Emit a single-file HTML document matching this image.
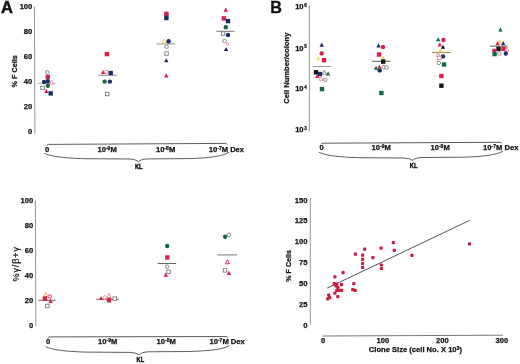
<!DOCTYPE html>
<html><head><meta charset="utf-8"><style>
html,body{margin:0;padding:0;background:#fff;width:520px;height:364px;overflow:hidden}
svg{display:block;filter:blur(0.35px)}
text{font-family:"Liberation Sans",sans-serif;fill:#111;stroke:#111;stroke-width:0.25px}
</style></head><body>
<svg width="520" height="364" viewBox="0 0 520 364">
<rect width="520" height="364" fill="#fff"/>
<text x="1" y="13.2" text-anchor="start" font-size="16.5" font-weight="bold" style="stroke-width:0.45">A</text>
<text x="32.3" y="134.05" text-anchor="end" font-size="7.6" font-weight="bold" >0</text>
<text x="32.3" y="109.01" text-anchor="end" font-size="7.6" font-weight="bold" >20</text>
<text x="32.3" y="83.97" text-anchor="end" font-size="7.6" font-weight="bold" >40</text>
<text x="32.3" y="58.93" text-anchor="end" font-size="7.6" font-weight="bold" >60</text>
<text x="32.3" y="33.89" text-anchor="end" font-size="7.6" font-weight="bold" >80</text>
<text x="32.3" y="8.85" text-anchor="end" font-size="7.6" font-weight="bold" >100</text>
<line x1="34.45" y1="6.6" x2="34.9" y2="133.5" stroke="#959595" stroke-width="1"/>
<text x="0" y="0" text-anchor="middle" font-size="7.3" font-weight="bold" transform="translate(16.9 71.3) rotate(-90)">% F Cells</text>
<line x1="38" y1="83.3" x2="55.5" y2="83.3" stroke="#b59aa0" stroke-width="1"/>
<line x1="98.3" y1="75.2" x2="116.7" y2="75.2" stroke="#8a7f85" stroke-width="1"/>
<line x1="156.7" y1="43.9" x2="175.2" y2="43.9" stroke="#8a8a8a" stroke-width="1"/>
<line x1="216.3" y1="31.3" x2="234.5" y2="31.3" stroke="#7a7a7a" stroke-width="1"/>
<circle cx="47.3" cy="72.3" r="1.75" fill="#fff" stroke="#7c7c7c" stroke-width="0.9"/>
<rect x="45.6" y="74.8" width="4.4" height="4.4" fill="#da1f48"/>
<circle cx="44.0" cy="82.0" r="2.20" fill="#1a2c68"/>
<circle cx="47.8" cy="81.3" r="2.20" fill="#1a2c68"/>
<path d="M51.6 80.1L53.6 84.1L49.6 84.1Z" fill="#fff" stroke="#e8838f" stroke-width="0.9"/>
<circle cx="47.8" cy="85.7" r="2.20" fill="#13693f"/>
<rect x="40.8" y="86.2" width="3.5" height="3.5" fill="#fff" stroke="#7c7c7c" stroke-width="0.9"/>
<path d="M46.3 88.8L48.5 92.9L44.1 92.9Z" fill="#da1f48"/>
<rect x="48.5" y="91.2" width="4.4" height="4.4" fill="#1a2c68"/>
<rect x="104.7" y="51.9" width="4.4" height="4.4" fill="#da1f48"/>
<path d="M103.1 70.0L105.3 74.1L100.9 74.1Z" fill="#da1f48"/>
<circle cx="106.4" cy="71.9" r="1.75" fill="#fff" stroke="#e8838f" stroke-width="0.9"/>
<rect x="108.5" y="70.8" width="4.4" height="4.4" fill="#1a2c68"/>
<circle cx="104.6" cy="81.6" r="2.20" fill="#13693f"/>
<circle cx="109.9" cy="81.6" r="2.20" fill="#1a2c68"/>
<rect x="105.5" y="92.3" width="3.5" height="3.5" fill="#fff" stroke="#7c7c7c" stroke-width="0.9"/>
<rect x="164.2" y="11.6" width="4.4" height="4.4" fill="#da1f48"/>
<rect x="164.2" y="15.8" width="4.4" height="4.4" fill="#1a2c68"/>
<path d="M164.2 39.0L166.2 43.0L162.2 43.0Z" fill="#fff" stroke="#f0d24a" stroke-width="0.9"/>
<circle cx="168.6" cy="41.2" r="2.20" fill="#1a2c68"/>
<circle cx="166.6" cy="46.7" r="1.75" fill="#fff" stroke="#7c7c7c" stroke-width="0.9"/>
<rect x="164.8" y="51.8" width="3.5" height="3.5" fill="#fff" stroke="#7c7c7c" stroke-width="0.9"/>
<path d="M166.3 58.2L168.5 62.3L164.1 62.3Z" fill="#1a2c68"/>
<path d="M166.3 73.3L168.5 77.4L164.1 77.4Z" fill="#da1f48"/>
<path d="M225.7 7.6L227.9 11.7L223.5 11.7Z" fill="#da1f48"/>
<rect x="221.7" y="16.2" width="4.4" height="4.4" fill="#da1f48"/>
<rect x="225.8" y="18.9" width="4.4" height="4.4" fill="#1a2c68"/>
<circle cx="225.8" cy="27.2" r="2.20" fill="#13693f"/>
<rect x="221.3" y="31.8" width="3.5" height="3.5" fill="#fff" stroke="#7c7c7c" stroke-width="0.9"/>
<circle cx="228.0" cy="35.0" r="2.20" fill="#1a2c68"/>
<circle cx="224.6" cy="41.1" r="1.75" fill="#fff" stroke="#7c7c7c" stroke-width="0.9"/>
<circle cx="227.7" cy="44.1" r="1.25" fill="#fff" stroke="#e8838f" stroke-width="0.9"/>
<path d="M226.1 46.9L228.3 51.0L223.9 51.0Z" fill="#1a2c68"/>
<path d="M46.8 145.2 Q47.1 144.4 48.6 144.4 L225.4 143.4 Q226.9 143.4 227.2 144.2 M44.7 153.4 C49.7 156.1 62.7 158.1 84.7 158.7 L129.3 159.0 Q136.3 159.4 138.3 161.9 Q140.3 159.3 147.3 158.9 L188.7 158.6 C210.7 158.0 223.7 156.0 228.7 152.4" fill="none" stroke="#4a4a4a" stroke-width="0.9" stroke-linecap="round"/>
<text x="45" y="151.8" text-anchor="start" font-size="7.6" font-weight="bold" >0</text>
<text x="97.5" y="151.8" text-anchor="start" font-size="7.6" font-weight="bold" >10<tspan font-size="5.0" dy="-2.2">-9</tspan><tspan dy="2.2">M</tspan></text>
<text x="156" y="151.8" text-anchor="start" font-size="7.6" font-weight="bold" >10<tspan font-size="5.0" dy="-2.2">-8</tspan><tspan dy="2.2">M</tspan></text>
<text x="208.8" y="151.8" text-anchor="start" font-size="7.6" font-weight="bold" >10<tspan font-size="5.0" dy="-2.2">-7</tspan><tspan dy="2.2">M Dex</tspan></text>
<text x="138.8" y="169.4" text-anchor="middle" font-size="7.6" font-weight="bold" textLength="7.6" lengthAdjust="spacingAndGlyphs" style="stroke-width:0.45">KL</text>
<text x="270.2" y="13.0" text-anchor="start" font-size="16.2" font-weight="bold" style="stroke-width:0.3">B</text>
<text x="303.6" y="8.9" text-anchor="end" font-size="7.6" font-weight="bold">10</text>
<text x="304.2" y="6.5" font-size="4.5" font-weight="bold">6</text>
<text x="303.6" y="50.5" text-anchor="end" font-size="7.6" font-weight="bold">10</text>
<text x="304.2" y="48.1" font-size="4.5" font-weight="bold">5</text>
<text x="303.6" y="91.2" text-anchor="end" font-size="7.6" font-weight="bold">10</text>
<text x="304.2" y="88.8" font-size="4.5" font-weight="bold">4</text>
<text x="303.6" y="132.3" text-anchor="end" font-size="7.6" font-weight="bold">10</text>
<text x="304.2" y="130.0" font-size="4.5" font-weight="bold">3</text>
<line x1="309.4" y1="5" x2="309.4" y2="131.3" stroke="#959595" stroke-width="1"/>
<text x="0" y="0" text-anchor="middle" font-size="7.6" font-weight="bold" transform="translate(288.8 68.2) rotate(-90)">Cell Number/colony</text>
<line x1="312.7" y1="66.5" x2="330.9" y2="66.5" stroke="#9a9a9a" stroke-width="1"/>
<line x1="372.2" y1="61.3" x2="390.3" y2="61.3" stroke="#555" stroke-width="1"/>
<line x1="432.2" y1="52.4" x2="450.9" y2="52.4" stroke="#9a7a3a" stroke-width="1"/>
<line x1="490" y1="46.2" x2="507.8" y2="46.2" stroke="#666" stroke-width="1"/>
<path d="M321.7 42.6L323.9 46.7L319.5 46.7Z" fill="#1a2c68"/>
<circle cx="321.7" cy="53.4" r="2.20" fill="#da1f48"/>
<path d="M318.4 56.1L320.6 60.2L316.2 60.2Z" fill="#efe07a"/>
<rect x="321.8" y="58.0" width="4.4" height="4.4" fill="#da1f48"/>
<rect x="313.8" y="70.1" width="4.4" height="4.4" fill="#141414"/>
<rect x="317.8" y="71.8" width="4.4" height="4.4" fill="#1a2c68"/>
<path d="M324.4 70.1L326.4 74.1L322.4 74.1Z" fill="#fff" stroke="#7c7c7c" stroke-width="0.9"/>
<path d="M328.1 71.5L330.3 75.6L325.9 75.6Z" fill="#13693f"/>
<path d="M317.3 73.8L319.5 77.9L315.1 77.9Z" fill="#da1f48"/>
<path d="M321.0 76.2L323.0 80.2L319.0 80.2Z" fill="#fff" stroke="#e8838f" stroke-width="0.9"/>
<circle cx="325.3" cy="79.8" r="1.75" fill="#fff" stroke="#7c7c7c" stroke-width="0.9"/>
<rect x="319.8" y="86.9" width="4.4" height="4.4" fill="#13693f"/>
<path d="M378.6 43.3L380.8 47.4L376.4 47.4Z" fill="#1a2c68"/>
<circle cx="383.0" cy="47.0" r="2.20" fill="#da1f48"/>
<rect x="376.8" y="52.3" width="4.4" height="4.4" fill="#da1f48"/>
<path d="M383.0 55.6L385.2 59.7L380.8 59.7Z" fill="#f0d24a"/>
<rect x="381.0" y="59.4" width="4.4" height="4.4" fill="#141414"/>
<path d="M376.0 65.7L378.2 69.8L373.8 69.8Z" fill="#13693f"/>
<path d="M379.3 64.4L381.5 68.5L377.1 68.5Z" fill="#da1f48"/>
<circle cx="383.7" cy="67.1" r="1.75" fill="#fff" stroke="#7c7c7c" stroke-width="0.9"/>
<circle cx="386.7" cy="67.5" r="1.75" fill="#fff" stroke="#7c7c7c" stroke-width="0.9"/>
<circle cx="379.7" cy="70.4" r="2.20" fill="#1a2c68"/>
<rect x="379.2" y="90.8" width="4.4" height="4.4" fill="#13693f"/>
<path d="M438.2 37.2L440.4 41.3L436.0 41.3Z" fill="#13693f"/>
<circle cx="443.4" cy="40.0" r="2.20" fill="#da1f48"/>
<path d="M439.7 42.5L441.9 46.6L437.5 46.6Z" fill="#da1f48"/>
<path d="M443.0 44.7L445.2 48.8L440.8 48.8Z" fill="#141414"/>
<path d="M440.4 48.4L442.6 52.5L438.2 52.5Z" fill="#f0d24a"/>
<path d="M438.2 52.4L440.2 56.4L436.2 56.4Z" fill="#fff" stroke="#e8838f" stroke-width="0.9"/>
<circle cx="443.0" cy="56.4" r="2.20" fill="#1a2c68"/>
<rect x="437.6" y="56.2" width="3.5" height="3.5" fill="#fff" stroke="#e8838f" stroke-width="0.9"/>
<circle cx="438.8" cy="63.0" r="1.75" fill="#fff" stroke="#7c7c7c" stroke-width="0.9"/>
<rect x="441.9" y="62.3" width="4.4" height="4.4" fill="#13693f"/>
<rect x="439.2" y="73.8" width="4.4" height="4.4" fill="#da1f48"/>
<rect x="439.2" y="83.5" width="4.4" height="4.4" fill="#141414"/>
<path d="M500.4 27.4L502.6 31.5L498.2 31.5Z" fill="#13693f"/>
<path d="M499.9 39.1L502.1 43.2L497.7 43.2Z" fill="#f0d24a"/>
<path d="M497.6 41.1L499.8 45.2L495.4 45.2Z" fill="#da1f48"/>
<path d="M503.2 41.1L505.4 45.2L501.0 45.2Z" fill="#1a2c68"/>
<rect x="496.3" y="46.7" width="4.4" height="4.4" fill="#141414"/>
<rect x="501.3" y="46.7" width="4.4" height="4.4" fill="#da1f48"/>
<path d="M507.1 47.0L509.1 51.0L505.1 51.0Z" fill="#fff" stroke="#e8838f" stroke-width="0.9"/>
<circle cx="494.3" cy="50.8" r="2.20" fill="#da1f48"/>
<rect x="492.4" y="51.9" width="4.4" height="4.4" fill="#13693f"/>
<circle cx="499.5" cy="53.5" r="1.75" fill="#fff" stroke="#7c7c7c" stroke-width="0.9"/>
<circle cx="505.8" cy="53.5" r="2.20" fill="#1a2c68"/>
<path d="M321.0 144.0 Q321.3 143.2 322.8 143.2 L499.8 142.3 Q501.3 142.3 501.6 143.1 M319.1 152.3 C324.1 155.1 337.1 157.1 359.1 157.7 L403.8 158.0 Q410.8 158.4 412.8 160.4 Q414.8 157.9 421.8 157.5 L462.7 157.2 C484.7 156.6 497.7 154.6 502.7 151.3" fill="none" stroke="#4a4a4a" stroke-width="0.9" stroke-linecap="round"/>
<text x="319.4" y="149.8" text-anchor="start" font-size="7.6" font-weight="bold" >0</text>
<text x="371.6" y="149.8" text-anchor="start" font-size="7.6" font-weight="bold" >10<tspan font-size="5.0" dy="-2.2">-9</tspan><tspan dy="2.2">M</tspan></text>
<text x="430.5" y="149.8" text-anchor="start" font-size="7.6" font-weight="bold" >10<tspan font-size="5.0" dy="-2.2">-8</tspan><tspan dy="2.2">M</tspan></text>
<text x="483.1" y="149.8" text-anchor="start" font-size="7.6" font-weight="bold" >10<tspan font-size="5.0" dy="-2.2">-7</tspan><tspan dy="2.2">M Dex</tspan></text>
<text x="413.6" y="168" text-anchor="middle" font-size="7.6" font-weight="bold" textLength="7.6" lengthAdjust="spacingAndGlyphs" style="stroke-width:0.45">KL</text>
<text x="33.2" y="327.6" text-anchor="end" font-size="7.6" font-weight="bold" >0</text>
<text x="33.2" y="302.6" text-anchor="end" font-size="7.6" font-weight="bold" >20</text>
<text x="33.2" y="277.6" text-anchor="end" font-size="7.6" font-weight="bold" >40</text>
<text x="33.2" y="252.6" text-anchor="end" font-size="7.6" font-weight="bold" >60</text>
<text x="33.2" y="227.6" text-anchor="end" font-size="7.6" font-weight="bold" >80</text>
<text x="33.2" y="202.6" text-anchor="end" font-size="7.6" font-weight="bold" >100</text>
<line x1="35.4" y1="200.3" x2="35.85" y2="325.9" stroke="#959595" stroke-width="1"/>
<text x="0" y="0" text-anchor="middle" font-size="9.0" font-weight="normal" letter-spacing="0.9" style="stroke-width:0.2" transform="translate(18.6 263.8) rotate(-90)">%&#947;/&#946;+&#947;</text>
<line x1="38.3" y1="300.3" x2="55.6" y2="300.3" stroke="#666" stroke-width="1"/>
<line x1="96.2" y1="299.2" x2="118.9" y2="299.2" stroke="#666" stroke-width="1"/>
<line x1="157.7" y1="263.5" x2="176.2" y2="263.5" stroke="#666" stroke-width="1"/>
<line x1="217.6" y1="254.9" x2="237.2" y2="254.9" stroke="#777" stroke-width="1"/>
<path d="M45.7 292.3L47.7 296.3L43.7 296.3Z" fill="#fff" stroke="#e8a060" stroke-width="0.9"/>
<rect x="42.7" y="296.4" width="4.4" height="4.4" fill="#da1f48"/>
<circle cx="49.8" cy="296.5" r="1.75" fill="#fff" stroke="#da1f48" stroke-width="0.9"/>
<path d="M50.6 298.8L52.8 302.9L48.4 302.9Z" fill="#da1f48"/>
<rect x="45.6" y="304.2" width="3.5" height="3.5" fill="#fff" stroke="#7c7c7c" stroke-width="0.9"/>
<path d="M101.2 296.0L103.4 300.1L99.0 300.1Z" fill="#da1f48"/>
<circle cx="104.9" cy="297.4" r="1.75" fill="#fff" stroke="#e8a060" stroke-width="0.9"/>
<path d="M109.0 293.5L111.0 297.5L107.0 297.5Z" fill="#fff" stroke="#e8838f" stroke-width="0.9"/>
<rect x="106.8" y="298.1" width="4.4" height="4.4" fill="#da1f48"/>
<rect x="113.0" y="296.9" width="3.5" height="3.5" fill="#fff" stroke="#7c7c7c" stroke-width="0.9"/>
<circle cx="167.2" cy="246.0" r="2.20" fill="#13693f"/>
<rect x="165.1" y="255.3" width="4.4" height="4.4" fill="#da1f48"/>
<circle cx="167.2" cy="266.6" r="1.75" fill="#fff" stroke="#7c7c7c" stroke-width="0.9"/>
<rect x="166.8" y="270.1" width="3.5" height="3.5" fill="#fff" stroke="#7c7c7c" stroke-width="0.9"/>
<path d="M165.8 272.6L168.0 276.7L163.6 276.7Z" fill="#da1f48"/>
<circle cx="228.9" cy="234.8" r="1.75" fill="#fff" stroke="#7c7c7c" stroke-width="0.9"/>
<circle cx="225.1" cy="236.8" r="2.20" fill="#13693f"/>
<path d="M227.4 259.8L229.4 263.8L225.4 263.8Z" fill="#fff" stroke="#da1f48" stroke-width="0.9"/>
<rect x="223.3" y="268.6" width="3.5" height="3.5" fill="#fff" stroke="#7c7c7c" stroke-width="0.9"/>
<path d="M228.9 270.8L231.1 274.9L226.7 274.9Z" fill="#da1f48"/>
<path d="M47.8 337.7 Q48.1 336.9 49.6 336.9 L226.2 336.5 Q227.7 336.5 228.0 337.3 M46.2 346.8 C51.2 349.5 64.2 351.5 86.2 352.1 L130.2 352.4 Q137.2 352.8 139.2 354.9 Q141.2 352.2 148.2 351.8 L189.1 351.5 C211.1 350.9 224.1 348.9 229.1 345.8" fill="none" stroke="#4a4a4a" stroke-width="0.9" stroke-linecap="round"/>
<text x="45.9" y="344.2" text-anchor="start" font-size="7.6" font-weight="bold" >0</text>
<text x="98.1" y="344.2" text-anchor="start" font-size="7.6" font-weight="bold" >10<tspan font-size="5.0" dy="-2.2">-9</tspan><tspan dy="2.2">M</tspan></text>
<text x="156.6" y="344.2" text-anchor="start" font-size="7.6" font-weight="bold" >10<tspan font-size="5.0" dy="-2.2">-8</tspan><tspan dy="2.2">M</tspan></text>
<text x="209.5" y="344.2" text-anchor="start" font-size="7.6" font-weight="bold" >10<tspan font-size="5.0" dy="-2.2">-7</tspan><tspan dy="2.2">M Dex</tspan></text>
<text x="140.4" y="361.8" text-anchor="middle" font-size="7.6" font-weight="bold" textLength="7.6" lengthAdjust="spacingAndGlyphs" style="stroke-width:0.45">KL</text>
<text x="307.5" y="328.0" text-anchor="end" font-size="7.6" font-weight="bold" >0</text>
<text x="307.5" y="307.08" text-anchor="end" font-size="7.6" font-weight="bold" >25</text>
<text x="307.5" y="286.17" text-anchor="end" font-size="7.6" font-weight="bold" >50</text>
<text x="307.5" y="265.25" text-anchor="end" font-size="7.6" font-weight="bold" >75</text>
<text x="307.5" y="244.33" text-anchor="end" font-size="7.6" font-weight="bold" >100</text>
<text x="307.5" y="223.41" text-anchor="end" font-size="7.6" font-weight="bold" >125</text>
<text x="307.5" y="202.5" text-anchor="end" font-size="7.6" font-weight="bold" >150</text>
<line x1="310.3" y1="198.2" x2="310.3" y2="324.5" stroke="#959595" stroke-width="1"/>
<line x1="322.4" y1="336" x2="502.8" y2="335.2" stroke="#777" stroke-width="1"/>
<text x="323.2" y="343.4" text-anchor="middle" font-size="7.6" font-weight="bold" >0</text>
<text x="382.8" y="343.4" text-anchor="middle" font-size="7.6" font-weight="bold" >100</text>
<text x="442.3" y="343.4" text-anchor="middle" font-size="7.6" font-weight="bold" >200</text>
<text x="501.9" y="343.4" text-anchor="middle" font-size="7.6" font-weight="bold" >300</text>
<text x="0" y="0" text-anchor="middle" font-size="7.1" font-weight="bold" transform="translate(290.8 265.9) rotate(-90)">% F Cells</text>
<text x="368.8" y="352.4" text-anchor="start" font-size="7.6" font-weight="bold" >Clone Size (cell No. X 10<tspan font-size="5.4" dy="-2.4">3</tspan><tspan dy="2.4">)</tspan></text>
<line x1="327.2" y1="288.1" x2="469.8" y2="220.3" stroke="#555" stroke-width="1"/>
<rect x="341.5" y="271.1" width="3.2" height="3.2" rx="0.8" fill="#c91c3e"/>
<rect x="333.3" y="275.3" width="3.2" height="3.2" rx="0.8" fill="#c91c3e"/>
<rect x="332.6" y="282.1" width="3.2" height="3.2" rx="0.8" fill="#c91c3e"/>
<rect x="335.2" y="282.6" width="3.2" height="3.2" rx="0.8" fill="#c91c3e"/>
<rect x="334.3" y="284.3" width="3.2" height="3.2" rx="0.8" fill="#c91c3e"/>
<rect x="336.2" y="285.7" width="3.2" height="3.2" rx="0.8" fill="#c91c3e"/>
<rect x="340.0" y="283.0" width="3.2" height="3.2" rx="0.8" fill="#c91c3e"/>
<rect x="352.2" y="282.1" width="3.2" height="3.2" rx="0.8" fill="#c91c3e"/>
<rect x="335.2" y="288.8" width="3.2" height="3.2" rx="0.8" fill="#c91c3e"/>
<rect x="337.6" y="288.8" width="3.2" height="3.2" rx="0.8" fill="#c91c3e"/>
<rect x="340.0" y="288.8" width="3.2" height="3.2" rx="0.8" fill="#c91c3e"/>
<rect x="351.1" y="288.1" width="3.2" height="3.2" rx="0.8" fill="#c91c3e"/>
<rect x="353.5" y="288.8" width="3.2" height="3.2" rx="0.8" fill="#c91c3e"/>
<rect x="333.3" y="291.5" width="3.2" height="3.2" rx="0.8" fill="#c91c3e"/>
<rect x="336.2" y="295.1" width="3.2" height="3.2" rx="0.8" fill="#c91c3e"/>
<rect x="327.1" y="293.6" width="3.2" height="3.2" rx="0.8" fill="#c91c3e"/>
<rect x="328.0" y="296.1" width="3.2" height="3.2" rx="0.8" fill="#c91c3e"/>
<rect x="326.1" y="297.2" width="3.2" height="3.2" rx="0.8" fill="#c91c3e"/>
<rect x="353.8" y="252.5" width="3.2" height="3.2" rx="0.8" fill="#c91c3e"/>
<rect x="363.0" y="247.6" width="3.2" height="3.2" rx="0.8" fill="#c91c3e"/>
<rect x="361.0" y="253.5" width="3.2" height="3.2" rx="0.8" fill="#c91c3e"/>
<rect x="361.0" y="257.7" width="3.2" height="3.2" rx="0.8" fill="#c91c3e"/>
<rect x="361.0" y="261.9" width="3.2" height="3.2" rx="0.8" fill="#c91c3e"/>
<rect x="361.0" y="265.8" width="3.2" height="3.2" rx="0.8" fill="#c91c3e"/>
<rect x="371.3" y="256.0" width="3.2" height="3.2" rx="0.8" fill="#c91c3e"/>
<rect x="379.5" y="246.6" width="3.2" height="3.2" rx="0.8" fill="#c91c3e"/>
<rect x="379.8" y="263.4" width="3.2" height="3.2" rx="0.8" fill="#c91c3e"/>
<rect x="379.8" y="266.9" width="3.2" height="3.2" rx="0.8" fill="#c91c3e"/>
<rect x="391.7" y="241.0" width="3.2" height="3.2" rx="0.8" fill="#c91c3e"/>
<rect x="392.7" y="248.8" width="3.2" height="3.2" rx="0.8" fill="#c91c3e"/>
<rect x="410.3" y="253.7" width="3.2" height="3.2" rx="0.8" fill="#c91c3e"/>
<rect x="467.9" y="242.3" width="3.2" height="3.2" rx="0.8" fill="#a8284a"/>
</svg>
</body></html>
